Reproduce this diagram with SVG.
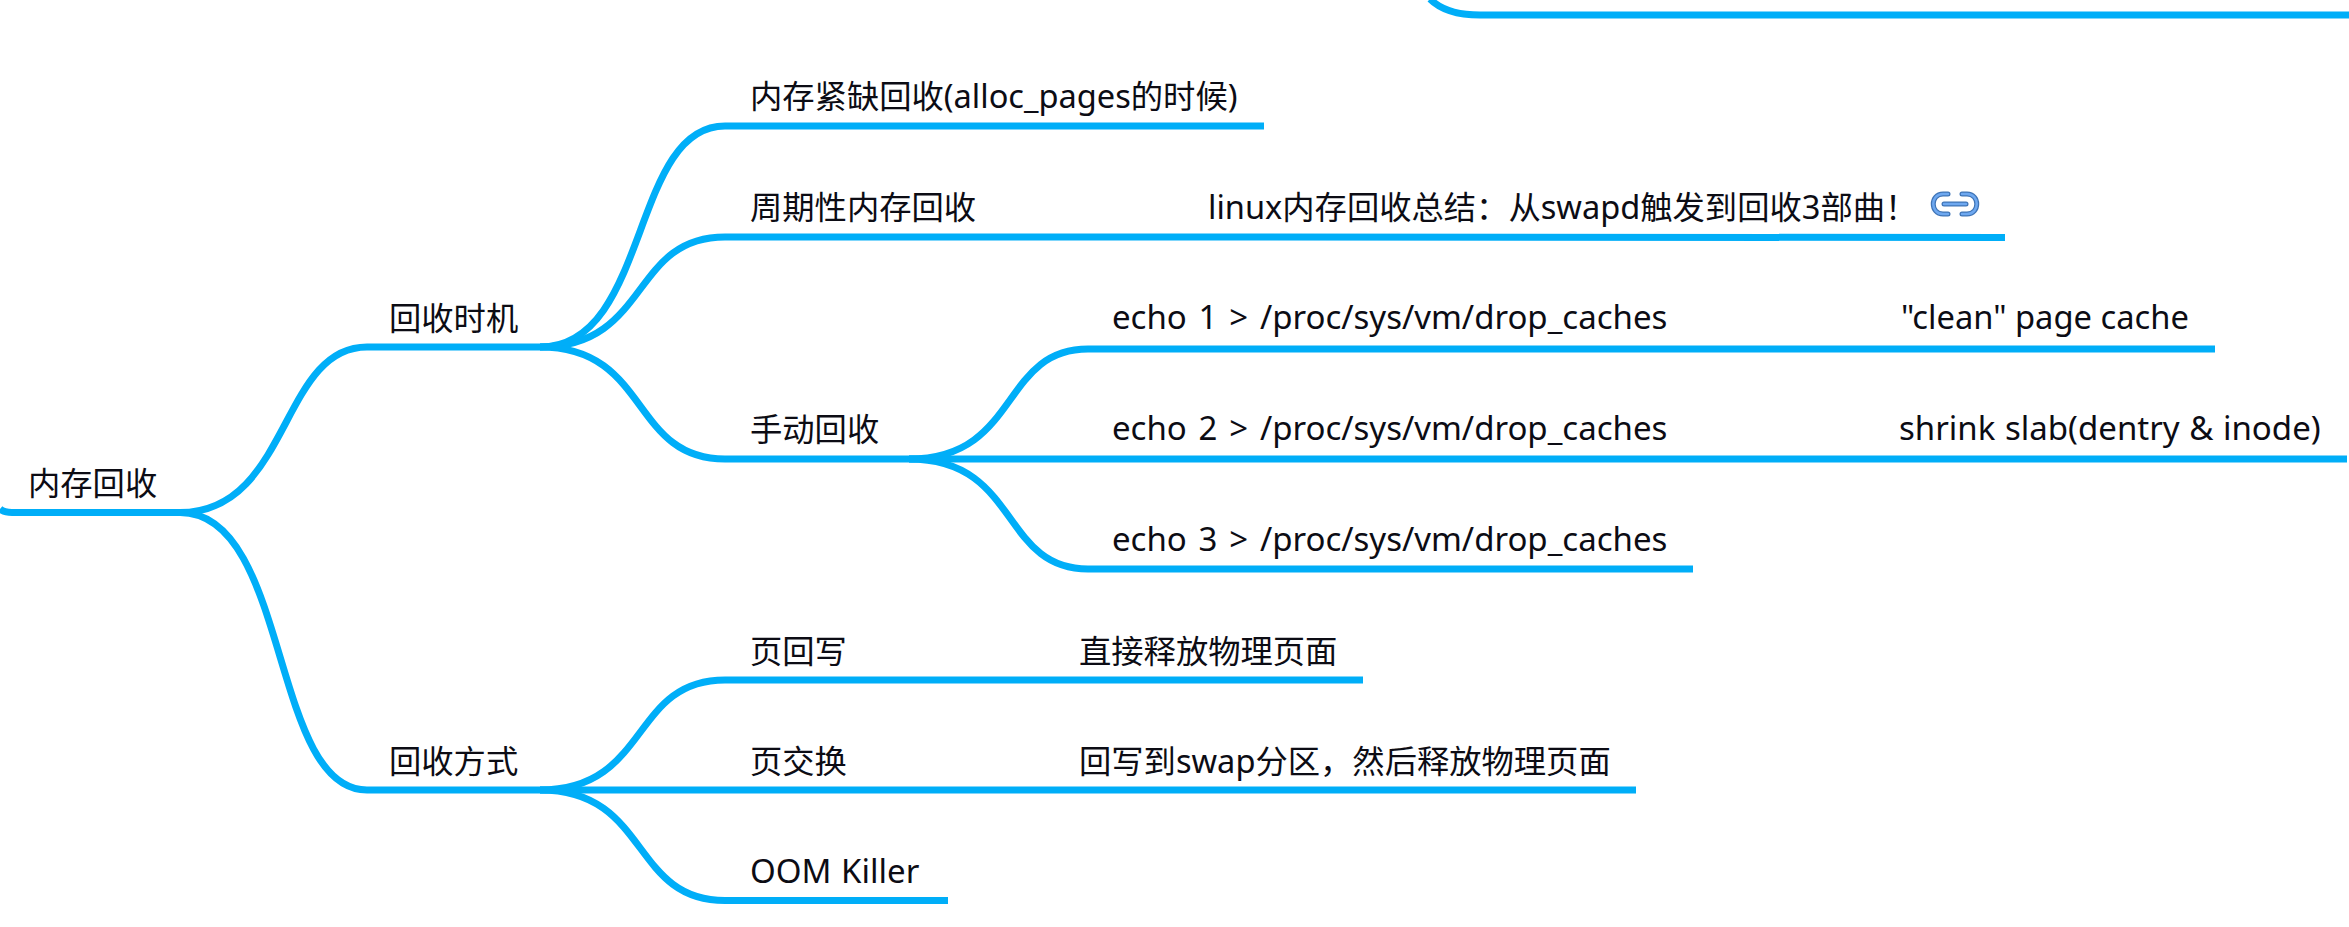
<svg xmlns="http://www.w3.org/2000/svg" width="2349" height="927" viewBox="0 0 2349 927">
<style>
.c{fill:none;stroke:#00aef8;stroke-width:7;stroke-linecap:butt}
text{font-family:"Segoe UI","Noto Sans","Noto Sans CJK SC",sans-serif;font-size:32.300px;fill:#0c0c14}
.l{font-size:32.600px}
.e{font-size:33px;word-spacing:3.200px}
</style>
<defs><g id="link" fill="none" stroke-linecap="round"><path d="M1948 194H1943C1930 194 1930 214 1943 214H1948"/><path d="M1962 194H1967C1980 194 1980 214 1967 214H1962"/><path d="M1944 204H1966"/></g></defs>
<rect width="2349" height="927" fill="#fff"/>
<g id="connectors" transform="translate(0 1)">
<path class="c" d="M0 508Q4 511.500 12 511.500H180C290 511.500 280 346 367 346H540"/>
<path class="c" d="M180 511.500C290 511.500 270 789 367 789H540"/>
<path class="c" d="M540 346C650 346 630 125 725 125H1264"/>
<path class="c" d="M540 346C650 346 630 236 725 236H1100L2005 236.500"/>
<path class="c" d="M540 346C650 346 630 458 725 458H909"/>
<path class="c" d="M909 458C1020 458 1000 348 1088 348H2215"/>
<path class="c" d="M909 458H2347"/>
<path class="c" d="M909 458C1020 458 1000 568 1088 568H1693"/>
<path class="c" d="M540 789C650 789 630 679 725 679H1363"/>
<path class="c" d="M540 789H1636"/>
<path class="c" d="M540 789C650 789 630 899.500 725 899.500H948"/>
<path class="c" d="M1430 -2C1442 10 1460 14 1480 14H2349"/>
</g>
<g id="n-root"><text x="28" y="495">内存回收</text></g>
<g id="n-timing"><text x="389" y="330">回收时机</text></g>
<g id="n-method"><text x="389" y="773">回收方式</text></g>
<g id="n-pressure"><text x="750" y="108">内存紧缺回收<tspan class="l">(alloc_pages</tspan>的时候<tspan class="l">)</tspan></text></g>
<g id="n-periodic"><text x="750" y="219">周期性内存回收</text></g>
<g id="n-periodic-note"><text x="1208" y="219"><tspan class="l">linux</tspan>内存回收总结：从<tspan class="l">swapd</tspan>触发到回收<tspan class="l">3</tspan>部曲！</text>
<use href="#link" stroke="#3f74b6" stroke-width="5"/><use href="#link" stroke="#6ea8f0" stroke-width="2.500"/></g>
<g id="n-manual"><text x="750" y="441">手动回收</text></g>
<g id="n-echo1"><text class="e" x="1112" y="329">echo 1 &gt; /proc/sys/vm/drop_caches</text></g>
<g id="n-clean"><text x="1901" y="329" style="font-size:32.700px">"clean" page cache</text></g>
<g id="n-echo2"><text class="e" x="1112" y="440">echo 2 &gt; /proc/sys/vm/drop_caches</text></g>
<g id="n-slab"><text x="1899" y="440" style="font-size:33px;word-spacing:1px">shrink slab(dentry &amp; inode)</text></g>
<g id="n-echo3"><text class="e" x="1112" y="551">echo 3 &gt; /proc/sys/vm/drop_caches</text></g>
<g id="n-writeback"><text x="750" y="663">页回写</text></g>
<g id="n-free"><text x="1079" y="663">直接释放物理页面</text></g>
<g id="n-swap"><text x="750" y="773">页交换</text></g>
<g id="n-swapnote"><text x="1079" y="773">回写到<tspan class="l">swap</tspan>分区，然后释放物理页面</text></g>
<g id="n-oom"><text x="750" y="883" style="font-size:33px;word-spacing:1px">OOM Killer</text></g>
</svg>
